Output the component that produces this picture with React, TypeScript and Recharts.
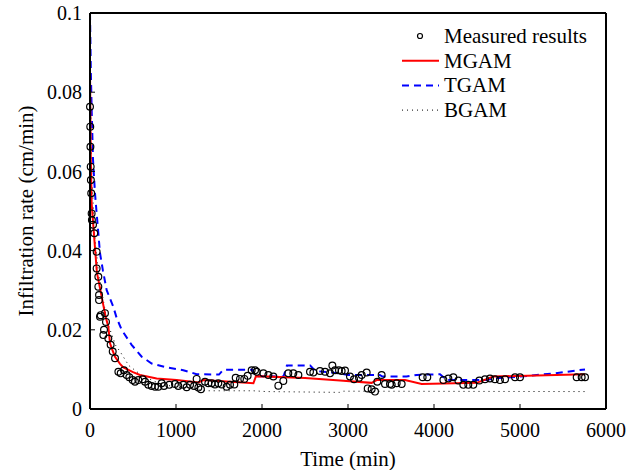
import {
  ComposedChart,
  Line,
  Scatter,
  XAxis,
  YAxis,
  Legend,
} from "recharts";

// measured infiltration rate (time in min, rate in cm/min)
const measuredTime = [
  0, 3, 5, 8, 10, 14, 19, 22, 35, 50, 77, 77, 97, 97, 105, 105, 116, 124, 174, 186,
  163, 155, 213, 240, 264, 291, 330, 357, 395, 426, 457, 496, 523, 562, 612, 640,
  678, 717, 756, 795, 833, 860, 922, 988, 1027, 1085, 1124, 1163, 1210, 1240, 1260,
  1290, 1337, 1376, 1415, 1453, 1492, 1531, 1589, 1628, 1678, 1694, 1744, 1794,
  1833, 1880, 1919, 1938, 2016, 2074, 2132, 2190, 2248, 2306, 2364, 2423, 2558,
  2597, 2674, 2733, 2791, 2818, 2849, 2895, 2926, 2965, 3023, 3070, 3128, 3159,
  3217, 3229, 3275, 3314, 3341, 3391, 3430, 3488, 3508, 3566, 3624, 3868, 3922,
  4109, 4167, 4225, 4283, 4341, 4399, 4457, 4527, 4593, 4651, 4709, 4767, 4826,
  4942, 5000, 5659, 5717, 5756,
];
const measuredRate = [
  0.0763, 0.0713, 0.0662, 0.0612, 0.0578, 0.0545, 0.0494, 0.0477, 0.0465, 0.0444,
  0.0397, 0.0355, 0.0334, 0.0309, 0.0288, 0.0275, 0.0233, 0.0237, 0.0242, 0.022,
  0.02, 0.0187, 0.0178, 0.0162, 0.0145, 0.0128, 0.0094, 0.009, 0.0098, 0.0086,
  0.008, 0.0073, 0.0069, 0.0073, 0.0075, 0.0069, 0.0061, 0.0058, 0.0056, 0.0056,
  0.0065, 0.0058, 0.0061, 0.0063, 0.0058, 0.0061, 0.0055, 0.0061, 0.0058, 0.0076,
  0.0054, 0.005, 0.0069, 0.0065, 0.0065, 0.0062, 0.0065, 0.0062, 0.0056, 0.0061,
  0.0062, 0.0079, 0.0076, 0.0076, 0.0084, 0.0098, 0.0098, 0.0094, 0.009, 0.0086,
  0.0082, 0.0059, 0.0071, 0.009, 0.009, 0.0086, 0.0094, 0.0092, 0.0096, 0.0094,
  0.009, 0.011, 0.0098, 0.0098, 0.0096, 0.0097, 0.0082, 0.0075, 0.0079, 0.0086,
  0.0092, 0.0052, 0.005, 0.0044, 0.0069, 0.0086, 0.0063, 0.0063, 0.0061, 0.0065,
  0.0063, 0.008, 0.008, 0.0073, 0.0077, 0.008, 0.0072, 0.0061, 0.0061, 0.0061,
  0.0072, 0.0075, 0.0077, 0.0075, 0.0073, 0.0075, 0.008, 0.008, 0.008, 0.008,
  0.008,
];

// MGAM model
const mgamTime = [
  0, 8, 19, 50, 80, 130, 182, 213, 233, 255, 291, 349, 388, 500, 581, 775, 1008,
  1260, 1320, 1900, 1930, 2500, 2907, 3275, 3333, 3663, 3857, 4496, 4690, 5756,
];
const mgamRate = [
  0.0856, 0.065, 0.052, 0.043, 0.0345, 0.029, 0.0232, 0.0208, 0.0166, 0.0152,
  0.0132, 0.0114, 0.0105, 0.0093, 0.0086, 0.0077, 0.0073, 0.0067, 0.0073, 0.0065,
  0.0083, 0.0078, 0.0072, 0.0066, 0.0073, 0.0073, 0.0063, 0.0066, 0.0082, 0.0088,
];

// TGAM model
const tgamTime = [
  0, 10, 20, 35, 58, 75, 97, 116, 150, 194, 271, 310, 368, 484, 601, 717, 891,
  1085, 1240, 1500, 1550, 1890, 1920, 2250, 2290, 2560, 2620, 2900, 3000, 3370,
  3400, 3680, 3800, 4070, 4150, 4610, 4690, 5000, 5400, 5756,
];
const tgamRate = [
  0.1, 0.085, 0.075, 0.063, 0.0545, 0.05, 0.0444, 0.0394, 0.035, 0.03, 0.0258,
  0.023, 0.02, 0.0162, 0.0132, 0.0115, 0.0105, 0.0098, 0.0088, 0.0087, 0.0099,
  0.0099, 0.0083, 0.0082, 0.011, 0.011, 0.0096, 0.009, 0.0086, 0.0086, 0.0082,
  0.0082, 0.0086, 0.0088, 0.0073, 0.0073, 0.0077, 0.0082, 0.009, 0.01,
];

// BGAM model
const bgamTime = [
  0, 20, 50, 100, 200, 300, 350, 450, 600, 800, 1000, 1200, 1356, 1900, 2050,
  2900, 2950, 5756,
];
const bgamRate = [
  0.09, 0.06, 0.045, 0.034, 0.022, 0.016, 0.0145, 0.011, 0.0085, 0.0065, 0.0055,
  0.005, 0.0046, 0.0046, 0.0044, 0.0042, 0.0045, 0.0044,
];

const xTicks = [0, 1000, 2000, 3000, 4000, 5000, 6000];
const yTicks = [0, 0.02, 0.04, 0.06, 0.08, 0.1];

const zip = (ts: number[], vs: number[]) => ts.map((t, i) => ({ t, v: vs[i] }));

const measured = zip(measuredTime, measuredRate);
const mgam = zip(mgamTime, mgamRate);
const tgam = zip(tgamTime, tgamRate);
const bgam = zip(bgamTime, bgamRate);

const FONT = "Liberation Serif";
const tickStyle = { fontFamily: FONT, fontSize: 20, fill: "#000" };
const axisLine = { stroke: "#000", strokeWidth: 2 };
const tickLine = { stroke: "#000", strokeWidth: 1 };

const legendItems = [
  { name: "Measured results", kind: "marker" },
  { name: "MGAM", kind: "line", color: "#ff0000", dash: undefined, width: 2 },
  { name: "TGAM", kind: "line", color: "#0000ff", dash: "7 5", width: 2 },
  { name: "BGAM", kind: "line", color: "#000", dash: "1 4", width: 1 },
];

function Circle(props: any) {
  const { cx, cy } = props;
  if (cx == null || cy == null) return null;
  return <circle cx={cx} cy={cy} r={3.4} fill="none" stroke="#000" strokeWidth={1.2} />;
}

function LegendBox() {
  return (
    <svg width={210} height={105}>
      {legendItems.map((item, i) => {
        const y = 16 + i * 24.7;
        return (
          <g key={item.name}>
            {item.kind === "marker" ? (
              <circle cx={25} cy={y} r={2.5} fill="none" stroke="#000" strokeWidth={1.2} />
            ) : (
              <line
                x1={7}
                x2={44}
                y1={y}
                y2={y}
                stroke={item.color}
                strokeWidth={item.width}
                strokeDasharray={item.dash}
              />
            )}
            <text
              x={49}
              y={y}
              dominantBaseline="central"
              fontFamily={FONT}
              fontSize={21}
              fill="#000"
            >
              {item.name}
            </text>
          </g>
        );
      })}
    </svg>
  );
}

function YLabel() {
  return (
    <text
      x={33}
      y={211}
      transform="rotate(-90 33 211)"
      textAnchor="middle"
      fontFamily={FONT}
      fontSize={21}
      fill="#000"
    >
      Infiltration rate (cm/min)
    </text>
  );
}

export default function App() {
  return (
    <div style={{ position: "absolute", left: 0, top: 0, background: "#fff" }}>
      <ComposedChart
        width={639}
        height={470}
        margin={{ top: 12, right: 32, bottom: 0, left: 0 }}
      >
        <XAxis
          dataKey="t"
          type="number"
          domain={[0, 6000]}
          ticks={xTicks}
          height={61}
          tickSize={-5}
          tickMargin={19}
          tick={tickStyle}
          axisLine={axisLine}
          tickLine={tickLine}
          label={{
            value: "Time (min)",
            position: "insideBottom",
            offset: 4,
            style: { fontFamily: FONT, fontSize: 21, fill: "#000" },
          }}
        />
        <XAxis
          xAxisId="top"
          orientation="top"
          dataKey="t"
          type="number"
          domain={[0, 6000]}
          ticks={xTicks}
          height={1}
          tickSize={-5}
          tick={false}
          axisLine={axisLine}
          tickLine={tickLine}
        />
        <YAxis
          type="number"
          domain={[0, 0.1]}
          ticks={yTicks}
          width={90}
          tickSize={-5}
          tickMargin={13}
          tick={tickStyle}
          allowDataOverflow
          axisLine={axisLine}
          tickLine={tickLine}
          label={{ content: () => <YLabel /> }}
        />
        <YAxis
          yAxisId="right"
          orientation="right"
          type="number"
          domain={[0, 0.1]}
          ticks={yTicks}
          width={1}
          tickSize={-5}
          tick={false}
          axisLine={axisLine}
          tickLine={tickLine}
        />
        <Legend
          layout="vertical"
          align="center"
          verticalAlign="middle"
          wrapperStyle={{ left: 395, top: 20, width: 210, height: 105 }}
          content={() => <LegendBox />}
        />
        <Scatter
          name="Measured results"
          data={measured}
          dataKey="v"
          shape={<Circle />}
          isAnimationActive={false}
        />
        <Line
          name="BGAM"
          data={bgam}
          dataKey="v"
          type="linear"
          stroke="#000"
          strokeWidth={1}
          strokeDasharray="1 4"
          dot={false}
          activeDot={false}
          isAnimationActive={false}
        />
        <Line
          name="TGAM"
          data={tgam}
          dataKey="v"
          type="linear"
          stroke="#0000ff"
          strokeWidth={2}
          strokeDasharray="7 5"
          dot={false}
          activeDot={false}
          isAnimationActive={false}
        />
        <Line
          name="MGAM"
          data={mgam}
          dataKey="v"
          type="linear"
          stroke="#ff0000"
          strokeWidth={2}
          dot={false}
          activeDot={false}
          isAnimationActive={false}
        />
        {/* invisible series so the top/right axes are drawn */}
        <Line
          xAxisId="top"
          yAxisId="right"
          data={bgam}
          dataKey="v"
          stroke="none"
          dot={false}
          activeDot={false}
          legendType="none"
          isAnimationActive={false}
        />
      </ComposedChart>
    </div>
  );
}
